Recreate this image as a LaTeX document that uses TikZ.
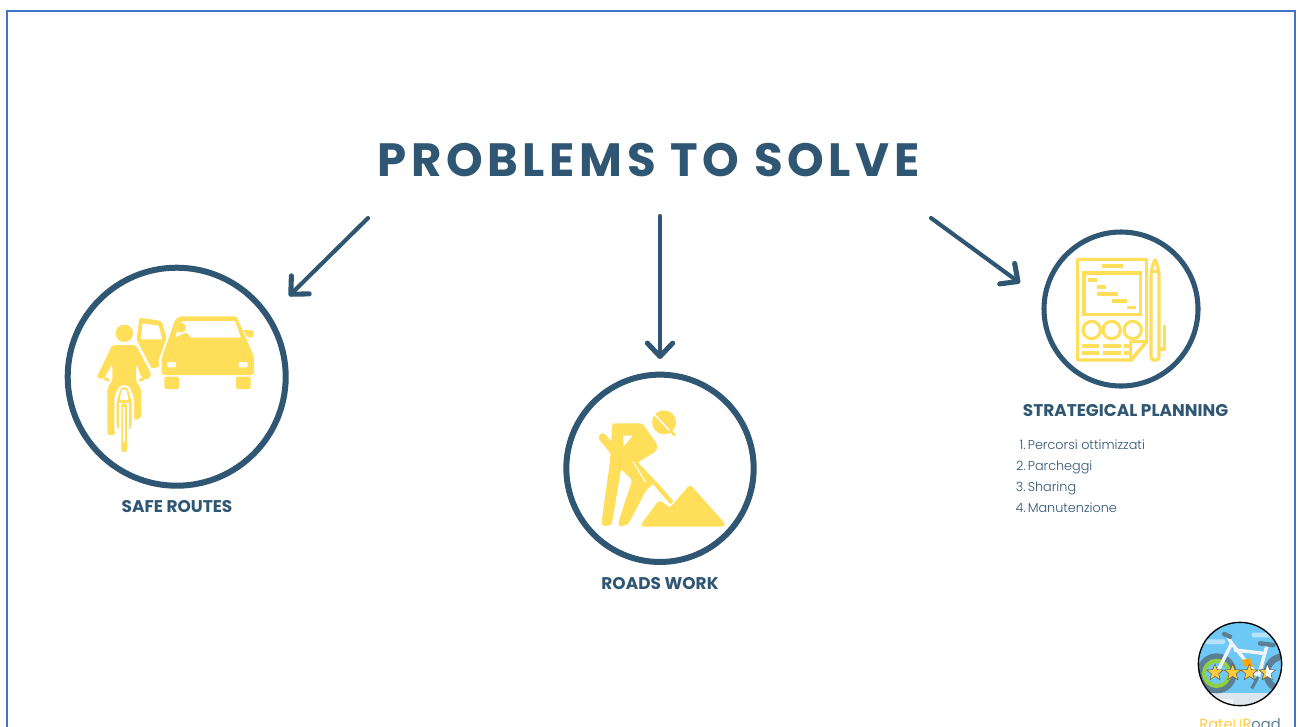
\documentclass[tikz,border=0pt]{standalone}
\usepackage{fontspec}
\setmainfont{Poppins}
\newfontfamily\listfont{Poppins Light}
\usetikzlibrary{arrows.meta,shapes.geometric}
\definecolor{navy}{HTML}{2F5673}
\definecolor{sun}{HTML}{FFDE59}
\definecolor{frame}{HTML}{4472C4}
\definecolor{sky}{HTML}{6EC8F5}
\definecolor{tyre}{HTML}{5B7F95}
\definecolor{rim}{HTML}{8FD13F}
\definecolor{road}{HTML}{DCE6EE}
\definecolor{gold}{HTML}{FFC93C}
\definecolor{pale}{HTML}{F0F4F7}
\tikzset{
  ring/.style={draw=navy,line width=4.5pt,fill=white},
  heading/.style={text=navy,font=\fontsize{12.7pt}{14pt}\selectfont\bfseries,inner sep=0pt},
  listtext/.style={text=navy,font=\listfont\fontsize{9.6pt}{11pt}\selectfont,inner sep=0pt,anchor=base west},
  listnum/.style={text=navy,font=\listfont\fontsize{9.6pt}{11pt}\selectfont,inner sep=0pt,anchor=base east},
  arrowline/.style={draw=navy,line width=3.1pt,line cap=round,line join=round,-{Straight Barb[length=10pt,width=19pt,line width=3.8pt,round]}},
  iconline/.style={draw=sun,line width=2.3pt},
  ratestar/.style={star,star points=5,star point ratio=2.3,minimum size=13pt,inner sep=0pt,draw=black!70,line width=.3pt}
}
\begin{document}
\begin{tikzpicture}[x=.75pt,y=-.75pt]
\useasboundingbox (0,0) rectangle (1298,726);
\clip (0,0) rectangle (1298,726);
\fill[white] (0,0) rectangle (1298,726);
\draw[frame,line width=1.3pt] (7,11) rectangle (1295,760);

\node[text=navy,inner sep=0pt,font=\fontsize{35pt}{40pt}\selectfont\bfseries\addfontfeature{LetterSpace=10}] (title) at (648.5,160) {PROBLEMS TO SOLVE};

\node[ring,circle,minimum size=163.5pt,inner sep=0pt] (safe) at (176.7,376.7) {};
\node[ring,circle,minimum size=140.5pt,inner sep=0pt] (roads) at (660,468.3) {};
\node[ring,circle,minimum size=115.5pt,inner sep=0pt,line width=3.8pt] (plan) at (1121,309) {};

\coordinate (a1s) at (368,218); \coordinate (a1e) at (289,296);
\coordinate (a2s) at (660,216); \coordinate (a2e) at (660,359);
\coordinate (a3s) at (931,218); \coordinate (a3e) at (1020,283);
\draw[arrowline] (a1s) -- (a1e);
\draw[arrowline] (a2s) -- (a2e);
\draw[arrowline] (a3s) -- (a3e);

% cyclist and car
\begin{scope}[shift={(60,260)},scale=1/3]
 % door
 \fill[sun,rounded corners=1.5pt] (238,173) -- (305,183) -- (321,240) -- (300,320) -- (272,326) -- (230,240) -- cycle;
 \fill[white,rounded corners=.7pt] (247,190) -- (296,197) -- (307,238) -- (243,238) -- cycle;
 % car
 \fill[white] (345,165) -- (296,300) -- (300,350) -- (350,350) -- cycle;
 \fill[sun,rounded corners=2pt] (358,169) -- (530,169) -- (582,290) -- (582,345) -- (305,345) -- (305,295) -- (345,180) -- cycle;
 \fill[white,rounded corners=.8pt] (378,183) -- (525,183) -- (543,233) -- (392,233) -- (380,218) -- (345,232) -- (362,186) -- cycle;
 \fill[sun] (363,203) circle[radius=15];
 \fill[sun] (345,232) -- (380,218) -- (392,233) -- (392,240) -- (345,240) -- cycle;
 \fill[sun,rounded corners=1pt] (550,210) -- (582,212) -- (580,232) -- (562,232) -- cycle;
 \fill[sun,rounded corners=1.5pt] (313,350) rectangle (357,387);
 \fill[sun,rounded corners=1.5pt] (528,350) rectangle (572,387);
 \fill[white,rounded corners=.7pt] (322,306) rectangle (348,322);
 \fill[white,rounded corners=.7pt] (536,306) rectangle (563,322);
 % rider
 \fill[sun] (193,220) circle[radius=26];
 \fill[white] (145,250) -- (235,250) -- (285,345) -- (255,370) -- (130,370) -- (100,345) -- cycle;
 \fill[sun,rounded corners=1.5pt] (157,255) -- (228,255) -- (275,345) -- (262,360) -- (245,352) -- (228,312) -- (228,365) -- (243,385) -- (243,475) -- (222,480) -- (218,402) -- (200,378) -- (180,378) -- (165,402) -- (165,525) -- (142,525) -- (142,385) -- (157,362) -- (157,312) -- (130,358) -- (110,352) -- cycle;
 \fill[sun,rounded corners=.7pt] (132,350) -- (150,358) -- (147,366) -- (130,358) -- cycle;
 \fill[sun,rounded corners=.7pt] (252,350) -- (235,358) -- (238,366) -- (255,358) -- cycle;
 % bicycle
 \fill[white,rounded corners=2pt] (163,412) -- (180,376) -- (205,376) -- (222,412) -- (222,520) -- (163,520) -- cycle;
 \fill[sun,rounded corners=2pt] (170,425) -- (183,382) -- (202,382) -- (215,425) -- (215,500) -- (205,512) -- (180,512) -- (170,500) -- cycle;
 \fill[white,rounded corners=1pt] (186,388) -- (199,388) -- (206,420) -- (179,420) -- cycle;
 \fill[white] (178,430) rectangle (207,520);
 \fill[sun,rounded corners=1.5pt] (184,430) rectangle (201,576);
 \fill[white] (190,442) rectangle (195,545);
\end{scope}

% worker
\begin{scope}[shift={(555,365)},scale=1/3]
 \fill[sun] (327,172) circle[radius=36];
 \draw[white,line width=1.1pt] (296,146) -- (352,205);
 \draw[sun,line width=2pt,line cap=round] (346,197) -- (358,210);
 \draw[sun,line width=6pt,line cap=round] (143,217) -- (200,287);
 \fill[sun,rounded corners=1.5pt] (172,175) -- (262,175) -- (308,240) -- (304,258) -- (248,292) -- (302,348) -- (272,378) -- (220,478) -- (192,485) -- (190,472) -- (232,345) -- (198,312) -- (170,480) -- (143,484) -- (140,470) -- (165,290) -- cycle;
 \fill[white] (205,212) -- (233,212) -- (205,245) -- cycle;
 \draw[white,line width=.8pt] (234,290) -- (272,352);
 \draw[sun,line width=3.2pt] (298,352) -- (352,415);
 \fill[sun,rounded corners=2.5pt] (258,478) -- (312,405) -- (345,428) -- (405,358) -- (512,478) -- (505,485) -- (262,485) -- cycle;
 \draw[white,line width=.8pt] (340,425) -- (360,408);
\end{scope}

% planning sheet
\begin{scope}[shift={(1010,225)},scale=1/3]
 \draw[iconline,line join=round] (203,103) -- (410,103) -- (410,350) -- (365,405) -- (203,405) -- cycle;
 \draw[iconline,line join=round] (362,350) -- (410,350) -- (362,405) -- cycle;
 \draw[iconline,line width=2.6pt] (275,123) -- (338,123);
 \draw[iconline] (222,144) rectangle (392,268);
 \draw[iconline] (233,165) -- (260,165) (260,186) -- (287,186) (260,207) -- (325,207) (305,228) -- (350,228) (350,248) -- (378,248);
 \draw[iconline] (245,315) circle[radius=26] (305,315) circle[radius=26] (368,315) circle[radius=26];
 \draw[iconline,line width=2.6pt] (215,363) -- (268,363) (278,363) -- (333,363) (343,363) -- (358,363) (215,384) -- (268,384) (278,384) -- (333,384) (343,384) -- (358,384);
 \draw[iconline,line join=round,rounded corners=2pt] (435,100) -- (447,140) -- (447,405) -- (423,405) -- (423,140) -- cycle;
 \draw[iconline] (423,140) -- (447,140);
 \draw[iconline] (447,372) -- (464,372) -- (464,300);
\end{scope}

\node[heading] (safelabel) at (177,507) {SAFE ROUTES};
\node[heading] (roadslabel) at (660,584) {ROADS WORK};
\node[heading] (planlabel) at (1125.5,410.5) {STRATEGICAL PLANNING};

\node[listnum] (n1) at (1026,449) {1.};
\node[listtext] (t1) at (1027.5,449) {Percorsi ottimizzati};
\node[listnum] (n2) at (1026,470) {2.};
\node[listtext] (t2) at (1027.5,470) {Parcheggi};
\node[listnum] (n3) at (1026,491) {3.};
\node[listtext] (t3) at (1027.5,491) {Sharing};
\node[listnum] (n4) at (1026,512) {4.};
\node[listtext] (t4) at (1027.5,512) {Manutenzione};

% logo
\begin{scope}[shift={(1180,610)},scale=1/3]
 \begin{scope}
  \clip (180,162) circle[radius=125];
  \fill[sky] (55,37) rectangle (305,287);
  \fill[sky!50!white,rounded corners=1pt] (75,88) rectangle (135,102);
  \fill[sky!50!white,rounded corners=1pt] (215,68) rectangle (285,82);
  \fill[road] (55,250) rectangle (305,290);
  \fill[pale] (55,268) rectangle (160,290);
  \draw[tyre,line width=5pt] (110,190) circle[radius=50];
  \draw[rim,line width=3pt] (110,190) circle[radius=38];
  \draw[tyre,line width=5pt] (310,190) circle[radius=50];
  \draw[pale,line width=2.6pt,line cap=round] (110,190) -- (155,100) -- (235,200) -- (260,110) (165,120) -- (250,130) (140,75) -- (155,100);
  \draw[tyre,line width=3.4pt,line cap=round] (132,72) -- (150,80);
  \draw[tyre,line width=3.4pt,line cap=round] (240,100) -- (280,105);
  \fill[orange!70!yellow] (185,150) -- (210,145) -- (220,170) -- (195,170) -- cycle;
  \draw[tyre,line width=2.4pt] (235,200) -- (215,235);
 \end{scope}
 \draw[black,line width=1pt] (180,162) circle[radius=125];
 \node[ratestar,fill=gold] (s1) at (105,188) {};
 \node[ratestar,fill=gold] (s2) at (158,188) {};
 \node[ratestar,fill=gold] (s3) at (208,188) {};
 \node[ratestar,fill=white] (s4) at (262,188) {};
 \begin{scope}
  \clip (230,150) rectangle (258,230);
  \node[ratestar,fill=gold] (s4half) at (262,188) {};
 \end{scope}
\end{scope}
\node[inner sep=0pt,anchor=base,font=\fontsize{11pt}{12pt}\selectfont] (logotext) at (1240,729) {\textcolor{sun!80!orange}{Rate}\textcolor{sun}{U}\textcolor{sun!80!orange}{R}\textcolor{tyre}{oad}};
\end{tikzpicture}
\end{document}
